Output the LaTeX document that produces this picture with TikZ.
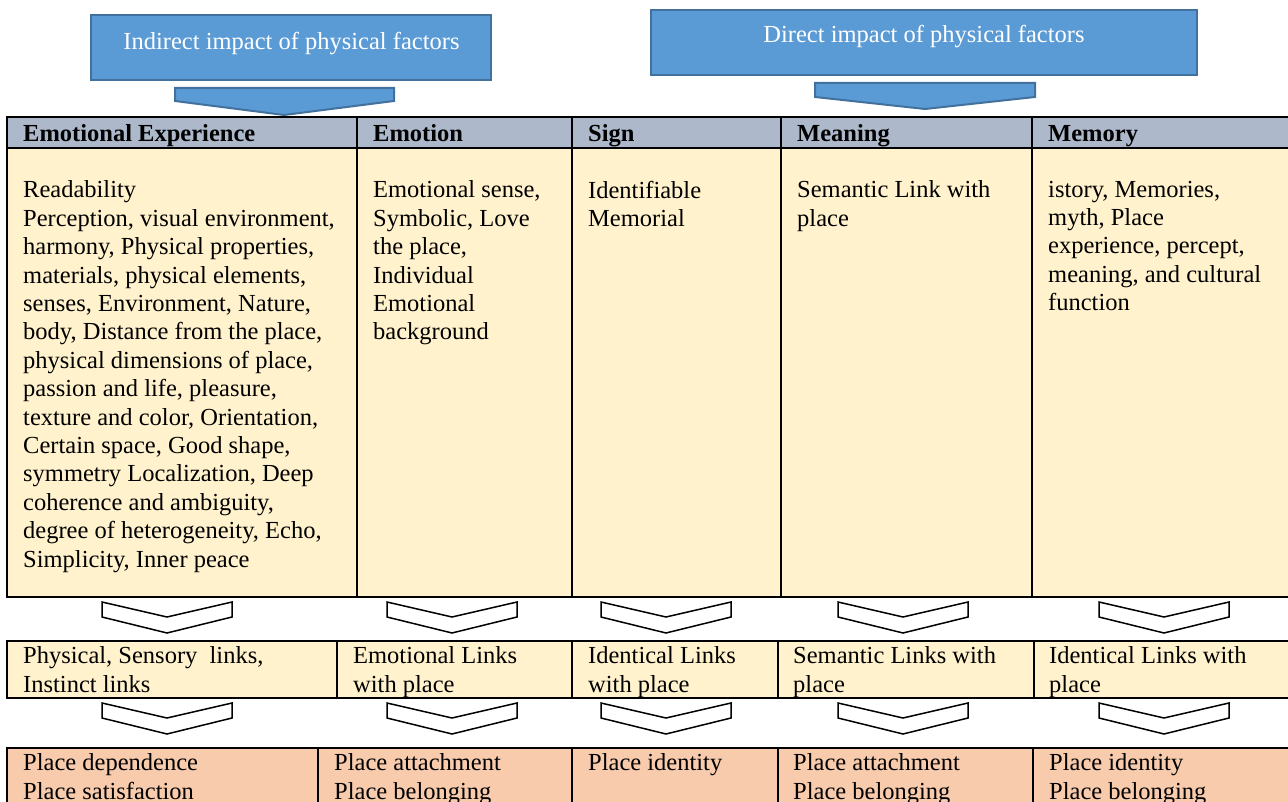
\documentclass[tikz,border=0pt]{standalone}
\usepackage{fontspec}
\setmainfont{Liberation Serif}
\usepackage{tikz}

\definecolor{boxblue}{HTML}{5B9BD5}
\definecolor{boxedge}{HTML}{41719C}
\definecolor{headgray}{HTML}{ADB9CA}
\definecolor{cellcream}{HTML}{FFF2CC}
\definecolor{cellpeach}{HTML}{F8CBAD}

\tikzset{
  banner/.style={fill=boxblue, draw=boxedge, line width=2pt},
  bannertext/.style={anchor=base, inner sep=0pt, text=white, font=\fontsize{24.5}{28.4}\selectfont},
  onecell/.style={anchor=north west, yshift=19.88pt, align=left, inner sep=0pt,
    font=\fontsize{24.5}{28.4}\selectfont, execute at begin node=\strut},
  cell/.style={onecell, yshift=-3.5pt},
  headcell/.style={onecell, font=\fontsize{24.5}{28.4}\selectfont\bfseries},
  rule/.style={line width=2.5pt},
  chev/.style={line width=1.5pt, fill=white}
}
\newcommand{\vchevron}[2]{\draw[chev] (#1,#2) -- ++(65,15) -- ++(65,-15) -- ++(0,15) -- ++(-65,16) -- ++(-65,-16) -- cycle;}

\begin{document}
\begin{tikzpicture}[x=1pt, y=-1pt]
\useasboundingbox (0,0) rectangle (1288,802);
\clip (0,0) rectangle (1288,802);

\draw[banner] (91,15) rectangle (491,80);
\node[bannertext] (indirect) at (291.5,50) {Indirect impact of physical factors};
\draw[banner] (175,88) -- (394,88) -- (394,101) -- (284,115) -- (175,101) -- cycle;
\draw[banner] (651,10) rectangle (1197,75);
\node[bannertext] (direct) at (924,43) {Direct impact of physical factors};
\draw[banner] (815,83) -- (1035,83) -- (1035,97) -- (925,109) -- (815,97) -- cycle;

\fill[headgray] (7,117) rectangle (1300,148);
\fill[cellcream] (7,148) rectangle (1300,597);
\fill[cellcream] (7,641) rectangle (1300,698);
\fill[cellpeach] (7,748) rectangle (1300,830);

\draw[rule] (7,117) rectangle (1300,597);
\draw[rule] (7,148) -- (1300,148);
\draw[rule] (357,117) -- (357,597);
\draw[rule] (572,117) -- (572,597);
\draw[rule] (781,117) -- (781,597);
\draw[rule] (1032,117) -- (1032,597);

\draw[rule] (7,641) rectangle (1300,698);
\draw[rule] (337,641) -- (337,698);
\draw[rule] (572,641) -- (572,698);
\draw[rule] (778,641) -- (778,698);
\draw[rule] (1034,641) -- (1034,698);

\draw[rule] (7,748) rectangle (1300,830);
\draw[rule] (318,748) -- (318,830);
\draw[rule] (572,748) -- (572,830);
\draw[rule] (778,748) -- (778,830);
\draw[rule] (1033,748) -- (1033,830);

\node[headcell] (hexp) at (23,141) {Emotional Experience};
\node[headcell] (hemo) at (373,141) {Emotion};
\node[headcell] (hsign) at (588,141) {Sign};
\node[headcell] (hmean) at (797,141) {Meaning};
\node[headcell] (hmem) at (1048,141) {Memory};

\node[cell] (bexp) at (23,197) {Readability\\Perception, visual environment,\\harmony, Physical properties,\\materials, physical elements,\\senses, Environment, Nature,\\body, Distance from the place,\\physical dimensions of place,\\passion and life, pleasure,\\texture and color, Orientation,\\Certain space, Good shape,\\symmetry Localization, Deep\\coherence and ambiguity,\\degree of heterogeneity, Echo,\\Simplicity, Inner peace};
\node[cell] (bemo) at (373,197) {Emotional sense,\\Symbolic, Love\\the place,\\Individual\\Emotional\\background};
\node[cell] (bsign) at (588,197) {Identifiable\\Memorial};
\node[cell] (bmean) at (797,197) {Semantic Link with\\place};
\node[cell] (bmem) at (1048,197) {istory, Memories,\\myth, Place\\experience, percept,\\meaning, and cultural\\function};

\vchevron{102}{602}
\vchevron{387}{602}
\vchevron{601}{602}
\vchevron{838}{602}
\vchevron{1099}{602}

\node[cell] (lphys) at (23,663) {Physical, Sensory\ \ links,\\Instinct links};
\node[cell] (lemo) at (353,663) {Emotional Links\\with place};
\node[cell] (lident) at (588,663) {Identical Links\\with place};
\node[cell] (lsem) at (793,663) {Semantic Links with\\place};
\node[cell] (lmem) at (1049,663) {Identical Links with\\place};

\vchevron{102}{703}
\vchevron{387}{703}
\vchevron{601}{703}
\vchevron{838}{703}
\vchevron{1099}{703}

\node[cell] (pdep) at (23,770) {Place dependence\\Place satisfaction};
\node[cell] (patt) at (334,770) {Place attachment\\Place belonging};
\node[onecell] (pident) at (588,770) {Place identity};
\node[cell] (patt2) at (793,770) {Place attachment\\Place belonging};
\node[cell] (pident2) at (1049,770) {Place identity\\Place belonging};
\end{tikzpicture}
\end{document}
